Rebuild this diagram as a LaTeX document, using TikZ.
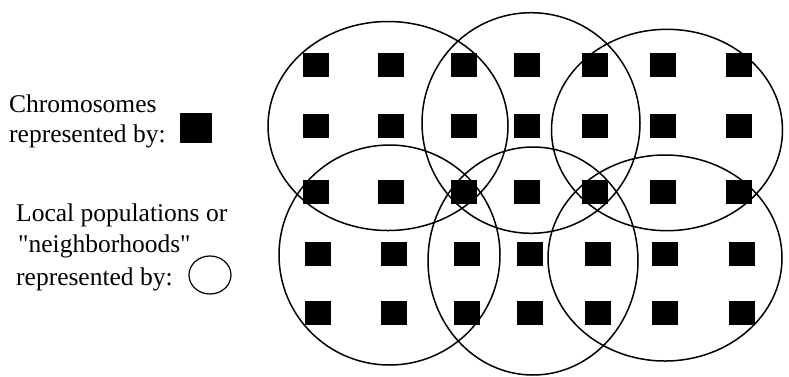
\documentclass[tikz,border=0pt]{standalone}
\usepackage{fontspec}
\setmainfont{Liberation Serif}[Ligatures=TeXOff]
\begin{document}
\begin{tikzpicture}[x=1pt,y=-1pt,
  lbl/.style={anchor=base west,inner sep=0pt,font=\fontsize{25.5}{30}\selectfont},
  chrom/.style={fill=black,draw=none},
  hood/.style={draw=black,line width=1.5pt}]
\useasboundingbox (0,0) rectangle (789,376);
% legend
\node[lbl] (t1) at (9,112) {Chromosomes};
\node[lbl] (t2) at (9,142) {represented by:};
\fill (180,113) rectangle (212,143);
\node[lbl] (t3) at (16,221) {Local populations or};
\node[lbl] (t4) at (18,252) {"neighborhoods"};
\node[lbl] (t5) at (16,285) {represented by:};
\draw[line width=1.2pt] (210,275) ellipse [x radius=21, y radius=19];
% chromosome grid
\foreach \y in {64.7,126,192}{
  \foreach \x in {316,391,464,527,595,662.5,739}{
    \fill[chrom] (\x-13,\y-12.2) rectangle (\x+13,\y+12.2);
  }}
\foreach \y in {253.7,313}{
  \foreach \x in {318,393.5,467,530,597.5,665,741.5}{
    \fill[chrom] (\x-13,\y-12.2) rectangle (\x+13,\y+12.2);
  }}
% neighbourhoods
\draw[hood] (388,126) ellipse [x radius=120, y radius=104.5];
\draw[hood] (531,123) ellipse [x radius=109, y radius=110.3];
\draw[hood] (667,130) ellipse [x radius=115.5, y radius=100.7];
\draw[hood] (389.5,255) ellipse [x radius=110.5, y radius=110];
\draw[hood] (533,261) ellipse [x radius=105, y radius=114];
\draw[hood] (665,258) ellipse [x radius=117, y radius=103];
\end{tikzpicture}
\end{document}
